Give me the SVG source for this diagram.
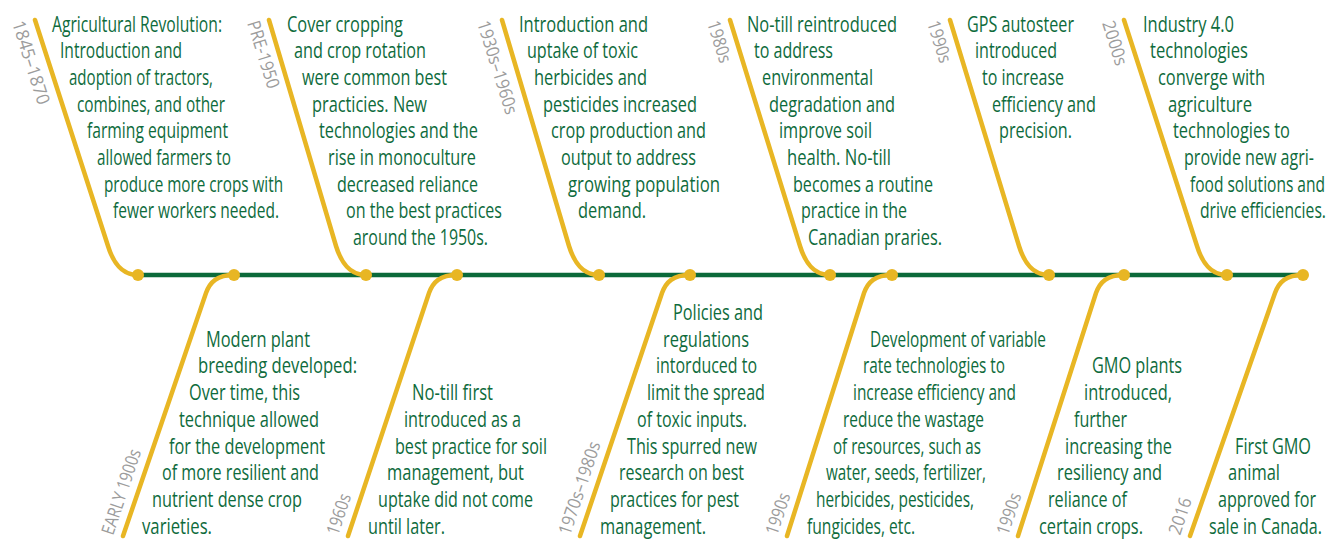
<svg xmlns="http://www.w3.org/2000/svg" width="1335" height="540" viewBox="0 0 1335 540">
  <style>
    .axis { stroke: #0b6a3a; stroke-width: 4.5; fill: none; }
    .branch { stroke: #e8b624; stroke-width: 4.5; fill: none; stroke-linecap: round; }
    .dot { fill: #e8b624; }
    .desc { font-family: "Open Sans", "Liberation Sans", sans-serif; font-size: 21px; font-weight: 500; fill: #0e6b3c; }
    .date { font-family: "Open Sans", "Liberation Sans", sans-serif; font-size: 18px; fill: #9c9c9c; }
    .end { text-anchor: end; }
  </style>
  <rect width="1335" height="540" fill="#ffffff"/>

  <!-- timeline axis and event branches -->
  <g id="connectors">
    <line class="axis" x1="136" y1="275" x2="1303" y2="275"/>
    <!-- upper branches: slant down into the axis -->
    <path class="branch" d="M35 20 L108 246 C113 262 121 275 138 275"/>
    <path class="branch" d="M269 20 L336 246 C341 262 349 275 366 275"/>
    <path class="branch" d="M502 20 L569 246 C574 262 582 275 599 275"/>
    <path class="branch" d="M730 20 L800 246 C805 262 813 275 830 275"/>
    <path class="branch" d="M950 20 L1019 246 C1024 262 1032 275 1049 275"/>
    <path class="branch" d="M1124 20 L1197 246 C1202 262 1210 275 1227 275"/>
    <!-- lower branches: leave the axis and slant down -->
    <path class="branch" d="M234 275 C217 275 210 282 206 293 L123 536"/>
    <path class="branch" d="M457 275 C440 275 433 282 429 293 L348 536"/>
    <path class="branch" d="M690 275 C673 275 666 282 662 293 L580 536"/>
    <path class="branch" d="M892 275 C875 275 868 282 864 293 L787 536"/>
    <path class="branch" d="M1124 275 C1107 275 1100 282 1096 293 L1018 536"/>
    <path class="branch" d="M1303 275 C1286 275 1279 282 1275 293 L1190 536"/>
  </g>

  <g id="event-1845-1870">
    <circle class="dot" cx="138" cy="275" r="6"/>
    <text class="date" transform="translate(12 23) rotate(72.5)" textLength="87" lengthAdjust="spacingAndGlyphs">1845–1870</text>
    <g class="desc">
      <text x="52" y="31.5" textLength="170" lengthAdjust="spacingAndGlyphs">Agricultural Revolution:</text>
      <text x="60" y="58.2" textLength="122" lengthAdjust="spacingAndGlyphs">Introduction and</text>
      <text x="69" y="84.9" textLength="144" lengthAdjust="spacingAndGlyphs">adoption of tractors,</text>
      <text x="77" y="111.6" textLength="148" lengthAdjust="spacingAndGlyphs">combines, and other</text>
      <text x="87" y="138.3" textLength="141" lengthAdjust="spacingAndGlyphs">farming equipment</text>
      <text x="97" y="165" textLength="134" lengthAdjust="spacingAndGlyphs">allowed farmers to</text>
      <text x="104" y="191.7" textLength="179" lengthAdjust="spacingAndGlyphs">produce more crops with</text>
      <text x="113" y="218.4" textLength="166" lengthAdjust="spacingAndGlyphs">fewer workers needed.</text>
    </g>
  </g>

  <g id="event-early-1900s">
    <circle class="dot" cx="234" cy="275" r="6"/>
    <text class="date" transform="translate(113 536) rotate(-71.5)" textLength="89" lengthAdjust="spacingAndGlyphs">EARLY 1900s</text>
    <g class="desc">
      <text x="206" y="346.7" textLength="104" lengthAdjust="spacingAndGlyphs">Modern plant</text>
      <text x="198" y="373.4" textLength="159" lengthAdjust="spacingAndGlyphs">breeding developed:</text>
      <text x="189" y="400.1" textLength="111" lengthAdjust="spacingAndGlyphs">Over time, this</text>
      <text x="179" y="426.8" textLength="140" lengthAdjust="spacingAndGlyphs">technique allowed</text>
      <text x="169" y="453.5" textLength="156" lengthAdjust="spacingAndGlyphs">for the development</text>
      <text x="162" y="480.2" textLength="157" lengthAdjust="spacingAndGlyphs">of more resilient and</text>
      <text x="152" y="506.9" textLength="150" lengthAdjust="spacingAndGlyphs">nutrient dense crop</text>
      <text x="142" y="533.6" textLength="70" lengthAdjust="spacingAndGlyphs">varieties.</text>
    </g>
  </g>

  <g id="event-pre-1950">
    <circle class="dot" cx="366" cy="275" r="6"/>
    <text class="date" transform="translate(247 23) rotate(72.5)" textLength="70" lengthAdjust="spacingAndGlyphs">PRE-1950</text>
    <g class="desc">
      <text x="287" y="31.5" textLength="116" lengthAdjust="spacingAndGlyphs">Cover cropping</text>
      <text x="294" y="58.2" textLength="132" lengthAdjust="spacingAndGlyphs">and crop rotation</text>
      <text x="302" y="84.9" textLength="145" lengthAdjust="spacingAndGlyphs">were common best</text>
      <text x="312" y="111.6" textLength="115" lengthAdjust="spacingAndGlyphs">practicies. New</text>
      <text x="319" y="138.3" textLength="159" lengthAdjust="spacingAndGlyphs">technologies and the</text>
      <text x="328" y="165" textLength="148" lengthAdjust="spacingAndGlyphs">rise in monoculture</text>
      <text x="337" y="191.7" textLength="141" lengthAdjust="spacingAndGlyphs">decreased reliance</text>
      <text x="346" y="218.4" textLength="156" lengthAdjust="spacingAndGlyphs">on the best practices</text>
      <text x="353" y="245.1" textLength="135" lengthAdjust="spacingAndGlyphs">around the 1950s.</text>
    </g>
  </g>

  <g id="event-1960s">
    <circle class="dot" cx="457" cy="275" r="6"/>
    <text class="date" transform="translate(338 536) rotate(-71.5)" textLength="42" lengthAdjust="spacingAndGlyphs">1960s</text>
    <g class="desc">
      <text x="412" y="400.1" textLength="81" lengthAdjust="spacingAndGlyphs">No-till first</text>
      <text x="404" y="426.8" textLength="117" lengthAdjust="spacingAndGlyphs">introduced as a</text>
      <text x="395" y="453.5" textLength="152" lengthAdjust="spacingAndGlyphs">best practice for soil</text>
      <text x="387" y="480.2" textLength="137" lengthAdjust="spacingAndGlyphs">management, but</text>
      <text x="378" y="506.9" textLength="155" lengthAdjust="spacingAndGlyphs">uptake did not come</text>
      <text x="368" y="533.6" textLength="77" lengthAdjust="spacingAndGlyphs">until later.</text>
    </g>
  </g>

  <g id="event-1930s-1960s">
    <circle class="dot" cx="599" cy="275" r="6"/>
    <text class="date" transform="translate(477 23) rotate(72.5)" textLength="97" lengthAdjust="spacingAndGlyphs">1930s–1960s</text>
    <g class="desc">
      <text x="519" y="31.5" textLength="129" lengthAdjust="spacingAndGlyphs">Introduction and</text>
      <text x="527" y="58.2" textLength="111" lengthAdjust="spacingAndGlyphs">uptake of toxic</text>
      <text x="534" y="84.9" textLength="113" lengthAdjust="spacingAndGlyphs">herbicides and</text>
      <text x="543" y="111.6" textLength="154" lengthAdjust="spacingAndGlyphs">pesticides increased</text>
      <text x="551" y="138.3" textLength="155" lengthAdjust="spacingAndGlyphs">crop production and</text>
      <text x="561" y="165" textLength="135" lengthAdjust="spacingAndGlyphs">output to address</text>
      <text x="568" y="191.7" textLength="152" lengthAdjust="spacingAndGlyphs">growing population</text>
      <text x="578" y="218.4" textLength="68" lengthAdjust="spacingAndGlyphs">demand.</text>
    </g>
  </g>

  <g id="event-1970s-1980s">
    <circle class="dot" cx="690" cy="275" r="6"/>
    <text class="date" transform="translate(570 536) rotate(-71.5)" textLength="97" lengthAdjust="spacingAndGlyphs">1970s–1980s</text>
    <g class="desc">
      <text x="673" y="320" textLength="90" lengthAdjust="spacingAndGlyphs">Policies and</text>
      <text x="663" y="346.7" textLength="86" lengthAdjust="spacingAndGlyphs">regulations</text>
      <text x="656" y="373.4" textLength="101" lengthAdjust="spacingAndGlyphs">intorduced to</text>
      <text x="647" y="400.1" textLength="118" lengthAdjust="spacingAndGlyphs">limit the spread</text>
      <text x="637" y="426.8" textLength="110" lengthAdjust="spacingAndGlyphs">of toxic inputs.</text>
      <text x="627" y="453.5" textLength="130" lengthAdjust="spacingAndGlyphs">This spurred new</text>
      <text x="619" y="480.2" textLength="125" lengthAdjust="spacingAndGlyphs">research on best</text>
      <text x="610" y="506.9" textLength="129" lengthAdjust="spacingAndGlyphs">practices for pest</text>
      <text x="600" y="533.6" textLength="106" lengthAdjust="spacingAndGlyphs">management.</text>
    </g>
  </g>

  <g id="event-1980s">
    <circle class="dot" cx="830" cy="275" r="6"/>
    <text class="date" transform="translate(707 23) rotate(72.5)" textLength="43" lengthAdjust="spacingAndGlyphs">1980s</text>
    <g class="desc">
      <text x="747" y="31.5" textLength="150" lengthAdjust="spacingAndGlyphs">No-till reintroduced</text>
      <text x="754" y="58.2" textLength="79" lengthAdjust="spacingAndGlyphs">to address</text>
      <text x="762" y="84.9" textLength="111" lengthAdjust="spacingAndGlyphs">environmental</text>
      <text x="769" y="111.6" textLength="126" lengthAdjust="spacingAndGlyphs">degradation and</text>
      <text x="779" y="138.3" textLength="93" lengthAdjust="spacingAndGlyphs">improve soil</text>
      <text x="787" y="165" textLength="104" lengthAdjust="spacingAndGlyphs">health. No-till</text>
      <text x="793" y="191.7" textLength="140" lengthAdjust="spacingAndGlyphs">becomes a routine</text>
      <text x="801" y="218.4" textLength="106" lengthAdjust="spacingAndGlyphs">practice in the</text>
      <text x="808" y="245.1" textLength="134" lengthAdjust="spacingAndGlyphs">Canadian praries.</text>
    </g>
  </g>

  <g id="event-1990s-rate">
    <circle class="dot" cx="892" cy="275" r="6"/>
    <text class="date" transform="translate(777 536) rotate(-71.5)" textLength="43" lengthAdjust="spacingAndGlyphs">1990s</text>
    <g class="desc">
      <text x="870" y="346.7" textLength="176" lengthAdjust="spacingAndGlyphs">Development of variable</text>
      <text x="863" y="373.4" textLength="142" lengthAdjust="spacingAndGlyphs">rate technologies to</text>
      <text x="853" y="400.1" textLength="163" lengthAdjust="spacingAndGlyphs">increase efficiency and</text>
      <text x="843" y="426.8" textLength="141" lengthAdjust="spacingAndGlyphs">reduce the wastage</text>
      <text x="833" y="453.5" textLength="148" lengthAdjust="spacingAndGlyphs">of resources, such as</text>
      <text x="826" y="480.2" textLength="160" lengthAdjust="spacingAndGlyphs">water, seeds, fertilizer,</text>
      <text x="816" y="506.9" textLength="158" lengthAdjust="spacingAndGlyphs">herbicides, pesticides,</text>
      <text x="807" y="533.6" textLength="108" lengthAdjust="spacingAndGlyphs">fungicides, etc.</text>
    </g>
  </g>

  <g id="event-1990s-gps">
    <circle class="dot" cx="1049" cy="275" r="6"/>
    <text class="date" transform="translate(927 23) rotate(72.5)" textLength="43" lengthAdjust="spacingAndGlyphs">1990s</text>
    <g class="desc">
      <text x="967" y="31.5" textLength="107" lengthAdjust="spacingAndGlyphs">GPS autosteer</text>
      <text x="975" y="58.2" textLength="82" lengthAdjust="spacingAndGlyphs">introduced</text>
      <text x="982" y="84.9" textLength="82" lengthAdjust="spacingAndGlyphs">to increase</text>
      <text x="992" y="111.6" textLength="104" lengthAdjust="spacingAndGlyphs">efficiency and</text>
      <text x="999" y="138.3" textLength="73" lengthAdjust="spacingAndGlyphs">precision.</text>
    </g>
  </g>

  <g id="event-1990s-gmo">
    <circle class="dot" cx="1124" cy="275" r="6"/>
    <text class="date" transform="translate(1008 536) rotate(-71.5)" textLength="43" lengthAdjust="spacingAndGlyphs">1990s</text>
    <g class="desc">
      <text x="1092" y="373.4" textLength="90" lengthAdjust="spacingAndGlyphs">GMO plants</text>
      <text x="1084" y="400.1" textLength="88" lengthAdjust="spacingAndGlyphs">introduced,</text>
      <text x="1074" y="426.8" textLength="53" lengthAdjust="spacingAndGlyphs">further</text>
      <text x="1065" y="453.5" textLength="107" lengthAdjust="spacingAndGlyphs">increasing the</text>
      <text x="1057" y="480.2" textLength="105" lengthAdjust="spacingAndGlyphs">resiliency and</text>
      <text x="1048" y="506.9" textLength="79" lengthAdjust="spacingAndGlyphs">reliance of</text>
      <text x="1039" y="533.6" textLength="104" lengthAdjust="spacingAndGlyphs">certain crops.</text>
    </g>
  </g>

  <!-- rightmost blocks are anchored at their right edge so they stay inside the frame -->
  <g id="event-2000s">
    <circle class="dot" cx="1227" cy="275" r="6"/>
    <text class="date" transform="translate(1102 23) rotate(72.5)" textLength="46" lengthAdjust="spacingAndGlyphs">2000s</text>
    <g class="desc end">
      <text x="1234" y="31.5" textLength="91" lengthAdjust="spacingAndGlyphs">Industry 4.0</text>
      <text x="1248" y="58.2" textLength="98" lengthAdjust="spacingAndGlyphs">technologies</text>
      <text x="1265" y="84.9" textLength="107" lengthAdjust="spacingAndGlyphs">converge with</text>
      <text x="1252" y="111.6" textLength="84" lengthAdjust="spacingAndGlyphs">agriculture</text>
      <text x="1290" y="138.3" textLength="117" lengthAdjust="spacingAndGlyphs">technologies to</text>
      <text x="1314" y="165" textLength="130" lengthAdjust="spacingAndGlyphs">provide new agri-</text>
      <text x="1325" y="191.7" textLength="135" lengthAdjust="spacingAndGlyphs">food solutions and</text>
      <text x="1326" y="218.4" textLength="126" lengthAdjust="spacingAndGlyphs">drive efficiencies.</text>
    </g>
  </g>

  <g id="event-2016">
    <circle class="dot" cx="1303" cy="275" r="6"/>
    <text class="date" transform="translate(1180 536) rotate(-71.5)" textLength="38" lengthAdjust="spacingAndGlyphs">2016</text>
    <g class="desc end">
      <text x="1311" y="453.5" textLength="76" lengthAdjust="spacingAndGlyphs">First GMO</text>
      <text x="1280" y="480.2" textLength="52" lengthAdjust="spacingAndGlyphs">animal</text>
      <text x="1316" y="506.9" textLength="98" lengthAdjust="spacingAndGlyphs">approved for</text>
      <text x="1322" y="533.6" textLength="113" lengthAdjust="spacingAndGlyphs">sale in Canada.</text>
    </g>
  </g>
</svg>
